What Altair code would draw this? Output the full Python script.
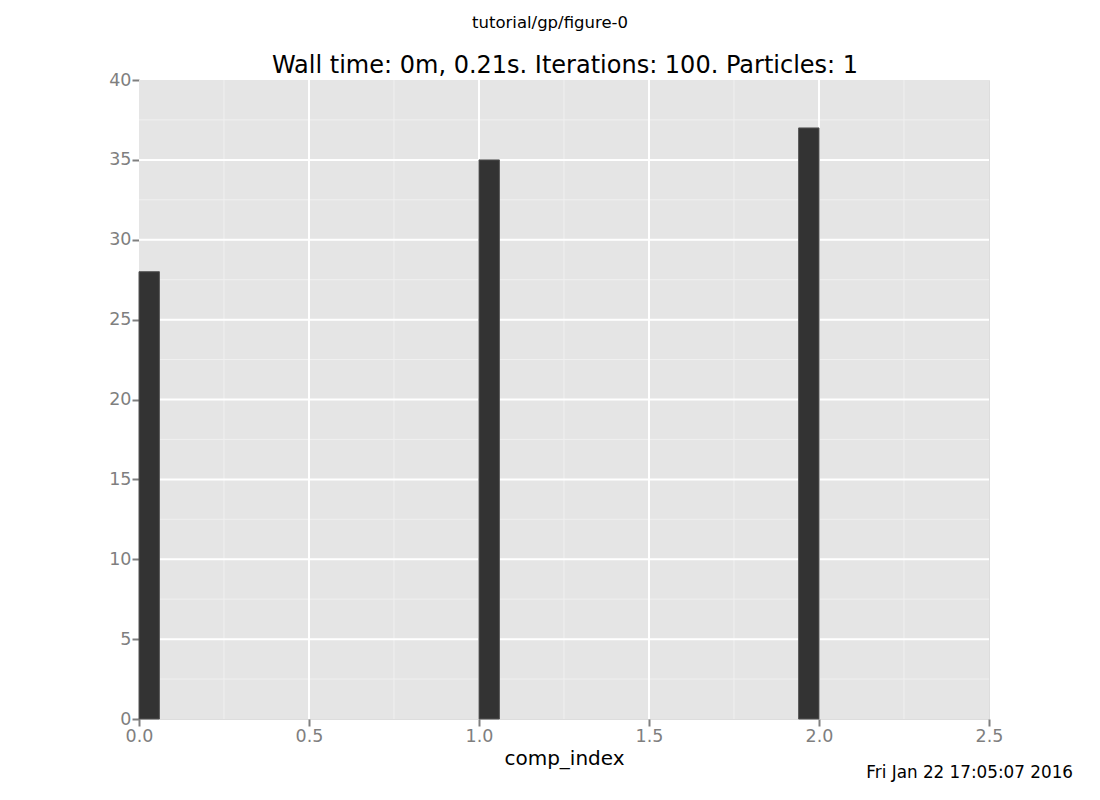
import altair as alt
import pandas as pd

# histogram bins of comp_index
bin_start = [0.0, 1.0, 1.94]
bin_end = [0.06, 1.06, 2.0]
counts = [28, 35, 37]

x_major = [0.5, 1.0, 1.5, 2.0]
x_minor = [0.25, 0.75, 1.25, 1.75, 2.25]
y_major = [5, 10, 15, 20, 25, 30, 35]
y_minor = [2.5, 7.5, 12.5, 17.5, 22.5, 27.5, 32.5, 37.5]
x_ticks = [0.0, 0.5, 1.0, 1.5, 2.0, 2.5]
y_ticks = [0, 5, 10, 15, 20, 25, 30, 35, 40]

W, H = 850, 639
FONT = "DejaVu Sans"

bars_df = pd.DataFrame({"start": bin_start, "end": bin_end, "count": counts})

xs = alt.Scale(domain=[0, 2.5], nice=False, zero=False)
ys = alt.Scale(domain=[0, 40], nice=False)

x_axis = alt.Axis(values=x_ticks, format=".1f", grid=False, domain=False,
                  labelFlush=False, labelOverlap=False,
                  tickColor="#7f7f7f", tickSize=7, tickWidth=2,
                  labelColor="#7f7f7f", labelFontSize=17.5, labelFont=FONT,
                  labelPadding=1, title="comp_index", titleFont=FONT,
                  titleFontSize=20, titleFontWeight="normal", titleColor="black",
                  titlePadding=4)
y_axis = alt.Axis(values=y_ticks, format="d", grid=False, domain=False,
                  labelFlush=False, labelOverlap=False,
                  tickColor="#7f7f7f", tickSize=7, tickWidth=2,
                  labelColor="#7f7f7f", labelFontSize=17.5, labelFont=FONT,
                  labelPadding=1, title=None)

panel = alt.Chart(pd.DataFrame({"a": [0]})).mark_rect(color="#e5e5e5").encode(
    x=alt.value(0), x2=alt.value(W), y=alt.value(0), y2=alt.value(H)
)

vminor = alt.Chart(pd.DataFrame({"x": x_minor})).mark_rule(color="#f0f0f0", strokeWidth=1).encode(
    x=alt.X("x:Q", scale=xs, axis=x_axis)
)
hminor = alt.Chart(pd.DataFrame({"y": y_minor})).mark_rule(color="#f0f0f0", strokeWidth=1).encode(
    y=alt.Y("y:Q", scale=ys, axis=y_axis)
)
vmajor = alt.Chart(pd.DataFrame({"x": x_major})).mark_rule(color="white", strokeWidth=2).encode(
    x=alt.X("x:Q", scale=xs, axis=x_axis)
)
hmajor = alt.Chart(pd.DataFrame({"y": y_major})).mark_rule(color="white", strokeWidth=2).encode(
    y=alt.Y("y:Q", scale=ys, axis=y_axis)
)

bars = alt.Chart(bars_df).mark_rect(color="#333333", stroke="#555555", strokeWidth=1).encode(
    x=alt.X("start:Q", scale=xs, axis=x_axis),
    x2="end:Q",
    y=alt.Y("count:Q", scale=ys, axis=y_axis),
    y2=alt.datum(0),
)

top_text = alt.Chart(pd.DataFrame({"t": ["tutorial/gp/figure-0"]})).mark_text(
    font=FONT, fontSize=16.5, color="black", align="center", baseline="middle"
).encode(text="t:N", x=alt.value(411), y=alt.value(-57))

title_text = alt.Chart(pd.DataFrame({"t": ["Wall time: 0m, 0.21s. Iterations: 100. Particles: 1"]})).mark_text(
    font=FONT, fontSize=24, color="black", align="center", baseline="middle"
).encode(text="t:N", x=alt.value(426), y=alt.value(-14))

date_text = alt.Chart(pd.DataFrame({"t": ["Fri Jan 22 17:05:07 2016"]})).mark_text(
    font=FONT, fontSize=16.8, color="black", align="right", baseline="middle"
).encode(text="t:N", x=alt.value(934), y=alt.value(693))

chart = alt.layer(
    panel, vminor, hminor, vmajor, hmajor, bars, top_text, title_text, date_text
).properties(
    width=W, height=H,
    autosize=alt.AutoSizeParams(type="none"),
    padding={"left": 131, "top": 72, "right": 100, "bottom": 70},
).configure_view(stroke=None).configure(background="white")

chart.save("out.html", embed_options={"renderer": "svg", "actions": False})
